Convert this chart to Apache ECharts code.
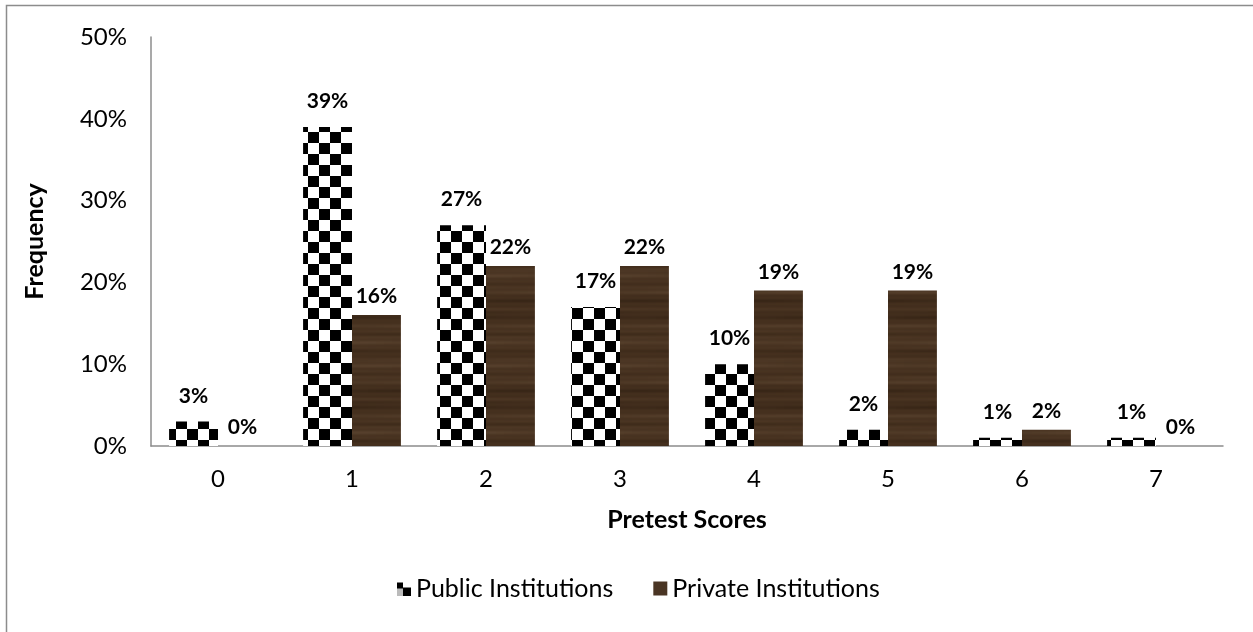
<!DOCTYPE html>
<html>
<head>
<meta charset="utf-8">
<script src="https://cdn.jsdelivr.net/npm/echarts@6/dist/echarts.min.js"></script>
<style>
  html, body { margin: 0; padding: 0; background: #fff; }
  #chart { width: 1253px; height: 632px; }
</style>
</head>
<body>
<div id="chart"></div>
<script>
// Pretest score distribution, public vs private institutions (percent of students)
const categories = ['0', '1', '2', '3', '4', '5', '6', '7'];
const publicValues = [3, 39, 27, 17, 10, 2, 1, 1];
const privateValues = [0, 16, 22, 22, 19, 19, 2, 0];
const yTicks = { min: 0, max: 50, interval: 10 };
const seriesNames = ['Public Institutions', 'Private Institutions'];

const FONT = 'Lato, "Liberation Sans", sans-serif';

// Black-and-white checkerboard fill
function checkerCanvas(cell) {
  const c = document.createElement('canvas');
  c.width = cell * 2; c.height = cell * 2;
  const g = c.getContext('2d');
  g.fillStyle = '#fff';
  g.fillRect(0, 0, c.width, c.height);
  g.fillStyle = '#000';
  g.fillRect(0, 0, cell, cell);
  g.fillRect(cell, cell, cell, cell);
  return c;
}

// Dark wood-grain fill: horizontal streaks of varying brown
function woodCanvas() {
  const c = document.createElement('canvas');
  c.width = 120; c.height = 90;
  const g = c.getContext('2d');
  g.fillStyle = '#46311f';
  g.fillRect(0, 0, c.width, c.height);
  for (let y = 0; y < c.height; y++) {
    const s = Math.sin(y * 0.37) * 0.5 + Math.sin(y * 1.13 + 1.7) * 0.3 + Math.sin(y * 0.11 + 0.4) * 0.4;
    if (s > 0) {
      g.fillStyle = 'rgba(110, 86, 64,' + (s * 0.35).toFixed(3) + ')';
    } else {
      g.fillStyle = 'rgba(30, 18, 8,' + (-s * 0.35).toFixed(3) + ')';
    }
    for (let x = 0; x < c.width; x += 8) {
      const w = Math.sin(x * 0.05 + y * 0.2) * 0.5 + 0.5;
      g.globalAlpha = 0.6 + w * 0.4;
      g.fillRect(x, y, 8, 1);
    }
    g.globalAlpha = 1;
  }
  return c;
}

// Small legend swatch for the checkered series
function publicIcon() {
  const c = document.createElement('canvas');
  c.width = 14; c.height = 14;
  const g = c.getContext('2d');
  g.fillStyle = '#fff';
  g.fillRect(0, 0, 14, 14);
  g.fillStyle = '#000';
  g.fillRect(0, 1, 6, 6);
  g.fillRect(6, 6, 8, 8);
  g.fillStyle = '#bbb';
  g.fillRect(0, 7, 6, 7);
  return c;
}

const checker = { image: checkerCanvas(11), repeat: 'repeat' };
const wood = { image: woodCanvas(), repeat: 'repeat' };

const chart = echarts.init(document.getElementById('chart'), null, { renderer: 'canvas' });

const labelCommon = {
  show: true,
  position: 'top',
  formatter: '{c}%',
  color: '#000',
  fontFamily: FONT,
  fontWeight: 'bold',
  fontSize: 21
};

chart.setOption({
  animation: false,
  backgroundColor: '#fff',
  graphic: [{
    type: 'rect',
    shape: { x: 6.5, y: 5.5, width: 1400, height: 800 },
    style: { fill: 'none', stroke: '#8c8c8c', lineWidth: 1.5 },
    silent: true,
    z: 0
  }],
  grid: { left: 151, top: 37, right: 30, bottom: 186, containLabel: false },
  legend: {
    bottom: 26,
    left: 392,
    itemGap: 40,
    itemWidth: 14,
    itemHeight: 14,
    textStyle: { fontFamily: FONT, fontSize: 25, color: '#000' },
    data: [
      { name: seriesNames[0], icon: 'image://' + publicIcon().toDataURL() },
      { name: seriesNames[1], icon: 'rect', itemStyle: { color: '#4a3524' } }
    ]
  },
  xAxis: {
    type: 'category',
    data: categories,
    name: 'Pretest Scores',
    nameLocation: 'middle',
    nameGap: 61,
    nameTextStyle: { fontFamily: FONT, fontWeight: 'bold', fontSize: 25, color: '#000' },
    axisLine: { lineStyle: { color: '#8c8c8c', width: 1.5 } },
    axisTick: { show: false },
    axisLabel: { fontFamily: FONT, fontSize: 24, color: '#000', margin: 21 }
  },
  yAxis: {
    type: 'value',
    min: yTicks.min,
    max: yTicks.max,
    interval: yTicks.interval,
    name: 'Frequency',
    nameLocation: 'middle',
    nameGap: 104,
    nameRotate: 90,
    nameTextStyle: { fontFamily: FONT, fontWeight: 'bold', fontSize: 25, color: '#000' },
    axisLine: { show: true, lineStyle: { color: '#8c8c8c', width: 1.5 } },
    axisTick: { show: false },
    splitLine: { show: false },
    axisLabel: { fontFamily: FONT, fontSize: 24, color: '#000', margin: 24, formatter: '{value}%' }
  },
  series: [
    {
      name: seriesNames[0],
      type: 'bar',
      data: publicValues,
      barGap: '0%',
      barCategoryGap: '27%',
      itemStyle: { color: checker },
      label: Object.assign({}, labelCommon, { distance: 15 })
    },
    {
      name: seriesNames[1],
      type: 'bar',
      data: privateValues,
      barGap: '0%',
      barCategoryGap: '27%',
      itemStyle: { color: wood },
      label: Object.assign({}, labelCommon, { distance: 8 })
    }
  ]
});
</script>
</body>
</html>
